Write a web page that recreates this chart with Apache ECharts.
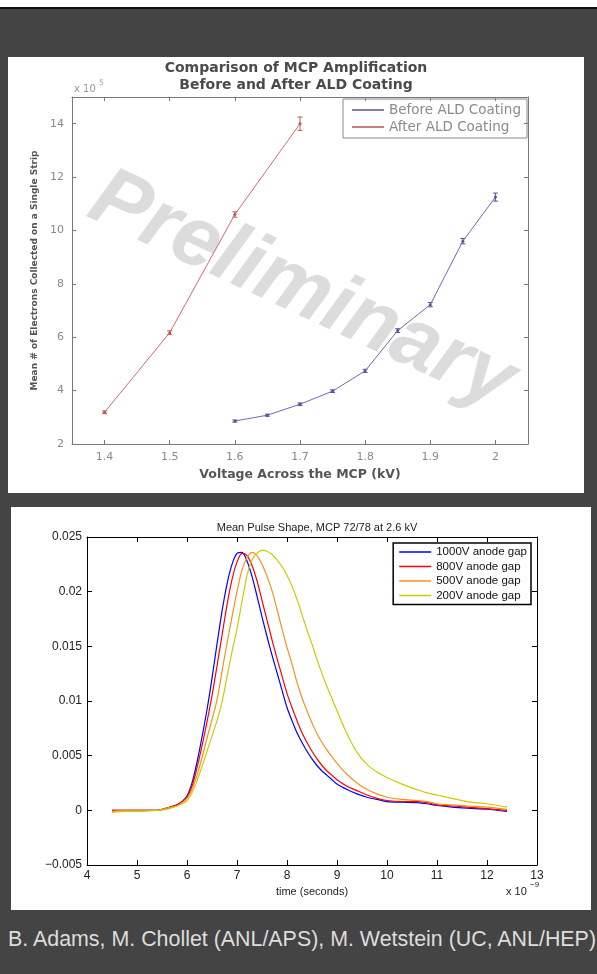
<!DOCTYPE html>
<html>
<head>
<meta charset="utf-8">
<script src="https://cdn.jsdelivr.net/npm/echarts@6/dist/echarts.min.js"></script>
<style>
  body { margin: 0; width: 597px; height: 974px; background: #444444; position: relative; overflow: hidden; }
  .strip { position: absolute; left: 0; top: 0; width: 597px; height: 7px; background: #ffffff; }
  .rule { position: absolute; left: 0; top: 7px; width: 597px; height: 2px; background: #111111; }
  .panel { position: absolute; background: #ffffff; }
  .chart { width: 100%; height: 100%; }
  .caption {
    position: absolute; left: 8px; top: 927px; line-height: 24px;
    font-family: 'Liberation Sans', Arial, sans-serif; font-size: 21.4px;
    color: #dddddd; white-space: nowrap;
  }
</style>
</head>
<body>
<div class="strip"></div>
<div class="rule"></div>
<div class="panel" style="left:8px; top:57px; width:576px; height:436px;">
  <div id="ald_gain" class="chart"></div>
</div>
<div class="panel" style="left:11px; top:507px; width:580px; height:403px;">
  <div id="pulse_shape" class="chart"></div>
</div>
<div class="caption">B. Adams, M. Chollet (ANL/APS), M. Wetstein (UC, ANL/HEP)</div>
<script>
  // --- MCP gain (x 10^5 electrons) vs voltage (kV)
  const voltBefore = [1.6, 1.65, 1.7, 1.75, 1.8, 1.85, 1.9, 1.95, 2.0]
  const gainBefore = [2.86, 3.08, 3.49, 3.98, 4.74, 6.25, 7.22, 9.6, 11.25]
  const errBefore = [0.04, 0.04, 0.05, 0.05, 0.06, 0.07, 0.08, 0.1, 0.15]
  const voltAfter = [1.4, 1.5, 1.6, 1.7]
  const gainAfter = [3.19, 6.17, 10.6, 14.0]
  const errAfter = [0.05, 0.07, 0.1, 0.25]
  const voltTicks = [1.4, 1.5, 1.6, 1.7, 1.8, 1.9, 2.0]
  const gainTicks = [2, 4, 6, 8, 10, 12, 14]

  // --- mean pulse shape, time in ns (axis shows x 10^-9 s)
  const timeNs = [4.5, 4.8, 5.1, 5.4, 5.6, 5.8, 5.9, 6.0, 6.1, 6.2, 6.3, 6.4, 6.5, 6.6, 6.7, 6.8, 6.9,
    7.0, 7.1, 7.2, 7.3, 7.4, 7.5, 7.6, 7.7, 7.8, 7.9, 8.0, 8.1, 8.2, 8.3, 8.4, 8.5, 8.6, 8.7, 8.8, 8.9,
    9.0, 9.2, 9.4, 9.6, 9.8, 10.0, 10.3, 10.6, 10.8, 11.0, 11.3, 11.6, 12.0, 12.4]
  const gap1000 = [0, 0, 0, 0, 0.0002, 0.0005, 0.0008, 0.0013, 0.0025, 0.0044, 0.0067, 0.0092, 0.0121, 0.0152, 0.0182, 0.0207, 0.0225,
    0.0235, 0.0236, 0.0228, 0.0214, 0.0196, 0.0177, 0.0159, 0.0142, 0.0126, 0.0110, 0.0094, 0.0082, 0.0071, 0.0062, 0.0054, 0.0047, 0.0041, 0.0036, 0.0032, 0.0028,
    0.0024, 0.0019, 0.0015, 0.0012, 0.0010, 0.0008, 0.00075, 0.0007, 0.0006, 0.00045, 0.0003, 0.0002, 0.0001, -0.0001]
  const gap800 = [0, 0, 0, 0, 0.0002, 0.0005, 0.0008, 0.0012, 0.0022, 0.0039, 0.0059, 0.0081, 0.0105, 0.0132, 0.0160, 0.0188, 0.0211,
    0.0227, 0.0235, 0.0233, 0.0224, 0.0210, 0.0192, 0.0174, 0.0156, 0.0139, 0.0123, 0.0107, 0.0094, 0.0082, 0.0071, 0.0062, 0.0054, 0.0047, 0.0041, 0.0036, 0.0032,
    0.0028, 0.0022, 0.0018, 0.0014, 0.0011, 0.0009, 0.0008, 0.0008, 0.0007, 0.0005, 0.0004, 0.0003, 0.00015, 0]
  const gap500 = [-0.0001, 0, 0, 0, 0.0002, 0.0004, 0.0007, 0.0011, 0.0019, 0.0032, 0.0048, 0.0066, 0.0083, 0.0101, 0.0127, 0.0153, 0.0177,
    0.0200, 0.0220, 0.0231, 0.0236, 0.0233, 0.0225, 0.0214, 0.0201, 0.0184, 0.0166, 0.0149, 0.0134, 0.0117, 0.0103, 0.0091, 0.0080, 0.0070, 0.0062, 0.0055, 0.0049,
    0.0043, 0.0033, 0.0025, 0.0019, 0.0015, 0.0012, 0.0010, 0.0009, 0.0008, 0.0006, 0.0005, 0.0004, 0.0003, 0.0001]
  const gap200 = [-0.0002, -0.0001, -0.0001, 0, 0.0001, 0.0004, 0.0006, 0.0009, 0.0016, 0.0027, 0.0040, 0.0054, 0.0068, 0.0082, 0.0099, 0.0122, 0.0145,
    0.0166, 0.0191, 0.0215, 0.0229, 0.0235, 0.0238, 0.0237, 0.0234, 0.0229, 0.0223, 0.0215, 0.0205, 0.0193, 0.0179, 0.0165, 0.0152, 0.0138, 0.0125, 0.0113, 0.0102,
    0.0091, 0.0070, 0.0053, 0.0042, 0.0035, 0.0030, 0.0024, 0.0019, 0.0016, 0.0014, 0.0011, 0.0008, 0.0006, 0.0003]
  const gapNames = ['1000V anode gap', '800V anode gap', '500V anode gap', '200V anode gap']
  const gapColors = ['#0000ff', '#ff0000', '#f7901e', '#cccc00']

  const zip = (xs, ys) => xs.map((x, i) => [x, ys[i]])

  function errorBar (color) {
    return function (params, api) {
      let x = api.value(0)
      let top = api.coord([x, api.value(2)])
      let bot = api.coord([x, api.value(1)])
      let w = 2.5
      let st = { stroke: color, lineWidth: 1 }
      return {
        type: 'group',
        children: [
          { type: 'line', shape: { x1: top[0], y1: top[1], x2: bot[0], y2: bot[1] }, style: st },
          { type: 'line', shape: { x1: top[0] - w, y1: top[1], x2: top[0] + w, y2: top[1] }, style: st },
          { type: 'line', shape: { x1: bot[0] - w, y1: bot[1], x2: bot[0] + w, y2: bot[1] }, style: st }
        ]
      }
    }
  }

  function gen_ald_gain () {
    let elem = echarts.init(document.getElementById('ald_gain'))
    let font = 'DejaVu Sans'
    let axisColor = '#777'
    let boxAxis = function (pos, min, max, ticks, showLabel, extra) {
      return Object.assign({
        type: 'value',
        position: pos,
        min: min,
        max: max,
        axisLine: { show: true, onZero: false, lineStyle: { color: axisColor, width: 1 } },
        axisTick: { show: true, inside: true, length: 4, customValues: ticks, lineStyle: { color: axisColor } },
        axisLabel: { show: showLabel, customValues: ticks, color: '#8a8a8a', fontFamily: font, fontSize: 11 },
        splitLine: { show: false }
      }, extra || {})
    }
    let option = {
      animation: false,
      title: {
        text: 'Comparison of MCP Amplification\nBefore and After ALD Coating',
        left: 'center',
        top: -2,
        textStyle: { fontFamily: font, fontSize: 14, fontWeight: 'bold', color: '#4a4a4a', lineHeight: 17 }
      },
      grid: { left: 64, right: 56, top: 40, bottom: 49 },
      legend: {
        data: ['Before ALD Coating', 'After ALD Coating'],
        orient: 'vertical',
        right: 57,
        top: 42,
        icon: 'rect',
        itemWidth: 32,
        itemHeight: 1.5,
        itemGap: 3,
        padding: [4, 6, 4, 9],
        borderColor: '#888',
        borderWidth: 1,
        textStyle: { fontFamily: font, fontSize: 13.5, color: '#8a8a8a' }
      },
      xAxis: [
        boxAxis('bottom', 1.35, 2.05, voltTicks, true, {
          name: 'Voltage Across the MCP (kV)',
          nameLocation: 'middle',
          nameGap: 21,
          nameTextStyle: { fontFamily: font, fontSize: 12.5, fontWeight: 'bold', color: '#555' }
        }),
        boxAxis('top', 1.35, 2.05, voltTicks, false)
      ],
      yAxis: [
        boxAxis('left', 2, 15, gainTicks, true, {
          name: 'Mean # of Electrons Collected on a Single Strip',
          nameLocation: 'middle',
          nameGap: 29,
          nameTextStyle: { fontFamily: font, fontSize: 9, fontWeight: 'bold', color: '#555' }
        }),
        boxAxis('right', 2, 15, gainTicks, false)
      ],
      graphic: [
        {
          type: 'text',
          z: 0,
          x: 294,
          y: 234,
          rotation: -25 * Math.PI / 180,
          style: {
            text: 'Preliminary',
            font: 'italic bold 84px "Liberation Sans", Arial, sans-serif',
            fill: '#dcdcdc',
            align: 'center',
            verticalAlign: 'middle'
          }
        },
        { type: 'text', x: 66, y: 27, style: { text: 'x 10', font: '10px "DejaVu Sans"', fill: '#999' } },
        { type: 'text', x: 91, y: 22, style: { text: '5', font: '7.5px "DejaVu Sans"', fill: '#999' } }
      ],
      series: [
        {
          name: 'Before ALD Coating',
          type: 'line',
          z: 3,
          data: zip(voltBefore, gainBefore),
          color: '#6b6bb3',
          symbol: 'circle',
          symbolSize: 3,
          lineStyle: { width: 1, color: '#6b6bb3' },
          itemStyle: { color: '#55559a' }
        },
        {
          name: 'After ALD Coating',
          type: 'line',
          z: 3,
          data: zip(voltAfter, gainAfter),
          color: '#d46a6a',
          symbol: 'circle',
          symbolSize: 3,
          lineStyle: { width: 1, color: '#d46a6a' },
          itemStyle: { color: '#b85555' }
        },
        {
          type: 'custom',
          z: 3,
          renderItem: errorBar('#55559a'),
          encode: { x: 0, y: [1, 2] },
          data: voltBefore.map((v, i) => [v, gainBefore[i] - errBefore[i], gainBefore[i] + errBefore[i]])
        },
        {
          type: 'custom',
          z: 3,
          renderItem: errorBar('#c05a5a'),
          encode: { x: 0, y: [1, 2] },
          data: voltAfter.map((v, i) => [v, gainAfter[i] - errAfter[i], gainAfter[i] + errAfter[i]])
        }
      ]
    }
    elem.setOption(option)
  }

  function gen_pulse_shape () {
    let elem = echarts.init(document.getElementById('pulse_shape'))
    let font = 'Liberation Sans'
    let boxAxis = function (pos, min, max, interval, showLabel, extra) {
      return Object.assign({
        type: 'value',
        position: pos,
        min: min,
        max: max,
        interval: interval,
        axisLine: { show: true, onZero: false, lineStyle: { color: '#000', width: 1 } },
        axisTick: { show: true, inside: true, length: 5, lineStyle: { color: '#000' } },
        axisLabel: { show: showLabel, color: '#222', fontFamily: font, fontSize: 12 },
        splitLine: { show: false }
      }, extra || {})
    }
    let series = [gap1000, gap800, gap500, gap200].map((vals, i) => ({
      name: gapNames[i],
      type: 'line',
      data: zip(timeNs, vals),
      smooth: 0.3,
      showSymbol: false,
      symbol: 'none',
      color: gapColors[i],
      lineStyle: { width: 1.2, color: gapColors[i] }
    }))
    let option = {
      animation: false,
      title: {
        text: 'Mean Pulse Shape, MCP 72/78 at 2.6 kV',
        left: 301,
        textAlign: 'center',
        top: 10,
        textStyle: { fontFamily: font, fontSize: 11, fontWeight: 'normal', color: '#222' }
      },
      grid: { left: 76, right: 54, top: 30, bottom: 45 },
      legend: {
        data: gapNames,
        orient: 'vertical',
        right: 60,
        top: 36,
        icon: 'rect',
        itemWidth: 32,
        itemHeight: 1.5,
        itemGap: 2.5,
        padding: [3, 4, 3, 6],
        borderColor: '#000',
        borderWidth: 1.5,
        textStyle: { fontFamily: font, fontSize: 11.5, color: '#111' }
      },
      xAxis: [
        boxAxis('bottom', 4, 13, 1, true, {
          axisLabel: { color: '#222', fontFamily: font, fontSize: 12, margin: 5 },
          name: 'time (seconds)',
          nameLocation: 'middle',
          nameGap: 18,
          nameTextStyle: { fontFamily: font, fontSize: 11, color: '#222' }
        }),
        boxAxis('top', 4, 13, 1, false)
      ],
      yAxis: [
        boxAxis('left', -0.005, 0.025, 0.005, true, {
          axisLabel: {
            color: '#222',
            fontFamily: font,
            fontSize: 12,
            margin: 5,
            formatter: v => v < 0 ? '\u2212' + Math.abs(v) : String(v)
          }
        }),
        boxAxis('right', -0.005, 0.025, 0.005, false)
      ],
      graphic: [
        { type: 'text', x: 495, y: 379, style: { text: 'x 10', font: '11px "Liberation Sans"', fill: '#222' } },
        { type: 'text', x: 519, y: 374, style: { text: '\u22129', font: '8px "Liberation Sans"', fill: '#222' } }
      ],
      series: series
    }
    elem.setOption(option)
  }

  gen_ald_gain()
  gen_pulse_shape()
</script>
</body>
</html>
